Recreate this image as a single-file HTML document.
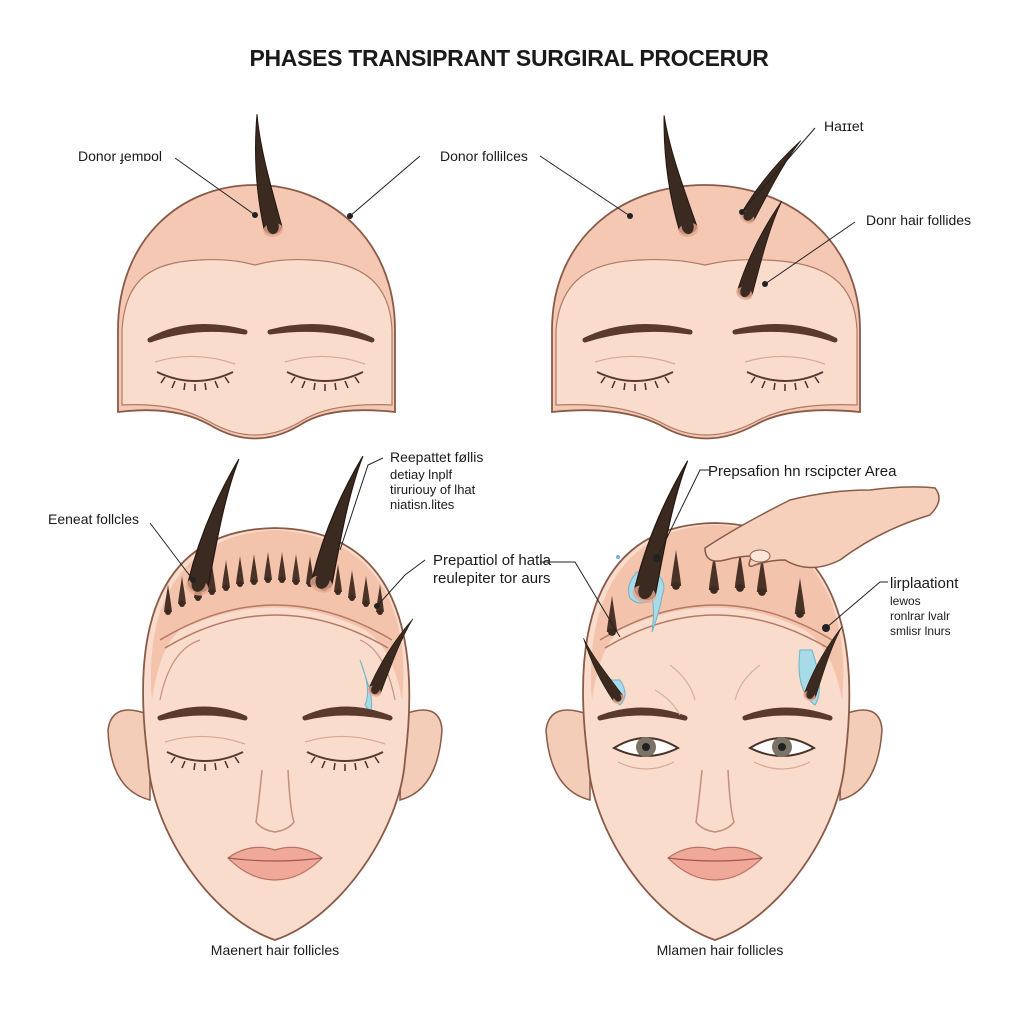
<!DOCTYPE html>
<html><head><meta charset="utf-8"><style>
html,body{margin:0;padding:0;background:#fff;}
svg{display:block}
text{font-family:"Liberation Sans",sans-serif;fill:#1a1a1a}
</style></head><body>
<svg width="1024" height="1024" viewBox="0 0 1024 1024" xmlns="http://www.w3.org/2000/svg">
<defs>
<g id="strandL"><path d="M-9,0 C-12,-40 -8,-80 0,-115 C-2,-80 4,-40 9,0 C6,8 -6,8 -9,0 Z" fill="#3b2a20" stroke="#24170f" stroke-width="1"/><ellipse cx="0" cy="2" rx="10" ry="7" fill="#e7a992" opacity=".8"/><ellipse cx="0" cy="-2" rx="6" ry="8" fill="#3b2a20"/></g>
<g id="spike"><path d="M-4,0 C-3,-10 -1,-20 0,-28 C1,-20 3,-10 4,0 Z" fill="#4a3326"/><circle cx="0" cy="0" r="3" fill="#3b2a20"/></g>
<g id="closedEye"><path d="M-38,0 Q0,18 38,0" fill="none" stroke="#5a3a30" stroke-width="2"/><path d="M-30,5 l-4,6 M-20,9 l-3,7 M-10,11 l-1,7 M0,12 l0,7 M10,11 l1,7 M20,9 l3,7 M30,5 l4,6" stroke="#4a3028" stroke-width="1.5"/><path d="M-40,-10 Q0,-22 40,-8" fill="none" stroke="#d9a894" stroke-width="1.2"/></g>
<g id="openEye"><path d="M-32,0 Q0,-20 32,0 Q0,16 -32,0 Z" fill="#fff" stroke="#4a3028" stroke-width="2"/><circle cx="0" cy="-1" r="10" fill="#7b7466"/><circle cx="0" cy="-1" r="4" fill="#222"/><path d="M-28,14 Q0,28 28,14" fill="none" stroke="#d9a894" stroke-width="1.2"/></g>
</defs>
<text x="509" y="66" text-anchor="middle" font-size="23" font-weight="bold" letter-spacing="-.3">PHASES TRANSIPRANT SURGIRAL PROCERUR</text>

<!-- TOP LEFT HEAD -->
<path d="M118,412 L118,330 C118,240 180,185 255,185 C330,185 395,240 395,330 L395,412 Q330,405 300,425 Q255,452 210,425 Q175,405 118,412 Z" fill="#f4c8b3" stroke="#8a5a48" stroke-width="1.8"/>
<path d="M122,405 L122,330 C125,280 150,262 200,260 Q230,258 255,265 Q280,258 310,260 C365,262 390,285 392,330 L392,405 Q330,402 300,422 Q255,448 210,422 Q175,402 122,405 Z" fill="#f9dccb" stroke="#b07a66" stroke-width="1.2"/>
<path d="M150,340 Q190,318 245,332 Q195,324 150,340 Z" fill="#5a3a2c" stroke="#5a3a2c" stroke-width="5" stroke-linejoin="round"/>
<path d="M270,332 Q325,318 372,340 Q325,324 270,332 Z" fill="#5a3a2c" stroke="#5a3a2c" stroke-width="5" stroke-linejoin="round"/>
<use href="#closedEye" x="195" y="372"/><use href="#closedEye" x="325" y="372"/>
<use href="#strandL" transform="translate(273,228) rotate(-8)"/>
<circle cx="255" cy="215" r="3" fill="#222"/><circle cx="350" cy="216" r="3" fill="#222"/>
<path d="M175,158 L255,215 M350,216 L420,156" stroke="#222" stroke-width="1" fill="none"/>
<text x="78" y="161" font-size="14">Donor ɟemɒol</text>
<text x="440" y="161" font-size="14">Donor follilces</text>

<!-- TOP RIGHT HEAD -->
<path d="M552,412 L552,330 C552,240 620,185 705,185 C790,185 860,240 860,330 L860,412 Q790,405 755,425 Q705,452 660,425 Q620,405 552,412 Z" fill="#f4c8b3" stroke="#8a5a48" stroke-width="1.8"/>
<path d="M556,405 L556,330 C560,280 590,262 640,260 Q675,258 705,265 Q735,258 765,260 C830,262 855,285 857,330 L857,405 Q790,402 755,422 Q705,448 660,422 Q620,402 556,405 Z" fill="#f9dccb" stroke="#b07a66" stroke-width="1.2"/>
<path d="M585,340 Q630,318 690,332 Q635,324 585,340 Z" fill="#5a3a2c" stroke="#5a3a2c" stroke-width="5" stroke-linejoin="round"/>
<path d="M735,332 Q790,318 835,340 Q790,324 735,332 Z" fill="#5a3a2c" stroke="#5a3a2c" stroke-width="5" stroke-linejoin="round"/>
<use href="#closedEye" x="635" y="372"/><use href="#closedEye" x="785" y="372"/>
<use href="#strandL" transform="translate(688,228) rotate(-12)"/>
<use href="#strandL" transform="translate(748,216) rotate(35) scale(.8)"/>
<use href="#strandL" transform="translate(745,292) rotate(22) scale(.85)"/>
<circle cx="630" cy="216" r="3" fill="#222"/><circle cx="742" cy="212" r="3" fill="#222"/><circle cx="765" cy="284" r="3" fill="#222"/>
<path d="M540,156 L630,216 M742,212 L815,128 M765,284 L855,222" stroke="#222" stroke-width="1" fill="none"/>
<text x="824" y="131" font-size="14">Haɪɪet</text>
<text x="866" y="225" font-size="14">Donr hair follides</text>

<!-- BOTTOM LEFT HEAD -->
<path d="M150,715 Q112,700 108,730 Q110,790 150,800 Z" fill="#f4cdb8" stroke="#8a5a48" stroke-width="1.5"/>
<path d="M402,715 Q440,700 442,730 Q438,790 400,800 Z" fill="#f4cdb8" stroke="#8a5a48" stroke-width="1.5"/>
<path d="M148,760 C132,640 150,530 275,528 C400,530 420,640 405,760 C400,830 340,918 275,940 C210,918 152,830 148,760 Z" fill="#f9dccb" stroke="#8a5a48" stroke-width="1.8"/>
<path d="M152,700 C145,620 170,535 275,530 C385,535 410,620 402,700 C395,660 380,640 365,630 Q275,585 180,630 C168,640 158,660 152,700 Z" fill="#f4c3ac"/>
<path d="M160,640 Q275,570 392,640 M165,648 Q275,582 388,648" stroke="#b57a66" stroke-width="1.5" fill="none"/>
<path d="M160,700 Q170,650 200,640 M395,700 Q385,650 360,640" stroke="#c89080" stroke-width="1.2" fill="none"/>
<g>
<use href="#spike" x="168" y="612"/><use href="#spike" x="182" y="604"/><use href="#spike" x="198" y="598"/><use href="#spike" x="212" y="592"/><use href="#spike" x="226" y="588"/><use href="#spike" x="240" y="584"/><use href="#spike" x="254" y="582"/><use href="#spike" x="268" y="580"/><use href="#spike" x="282" y="580"/><use href="#spike" x="296" y="582"/><use href="#spike" x="310" y="584"/><use href="#spike" x="324" y="588"/><use href="#spike" x="338" y="592"/><use href="#spike" x="352" y="598"/><use href="#spike" x="366" y="604"/><use href="#spike" x="380" y="612"/>
</g>
<use href="#strandL" transform="translate(198,585) rotate(18) scale(1.15)"/>
<use href="#strandL" transform="translate(322,582) rotate(18) scale(1.15)"/>
<path d="M360,660 Q372,690 365,705 Q375,720 370,690 Z" fill="#a8dbe8" stroke="#6fb3c8"/>
<use href="#strandL" transform="translate(375,690) rotate(28) scale(.7)"/>
<path d="M160,718 Q205,700 245,718 Q205,708 160,718 Z" fill="#5a3a2c" stroke="#5a3a2c" stroke-width="5" stroke-linejoin="round"/>
<path d="M305,718 Q345,700 390,718 Q345,708 305,718 Z" fill="#5a3a2c" stroke="#5a3a2c" stroke-width="5" stroke-linejoin="round"/>
<use href="#closedEye" x="205" y="752"/><use href="#closedEye" x="345" y="752"/>
<path d="M262,770 Q258,810 256,822 Q262,830 275,832 Q288,830 294,822 Q290,810 288,770" fill="none" stroke="#c48f7c" stroke-width="1.5"/>
<path d="M228,858 Q250,842 275,850 Q300,842 322,858 Q300,880 275,880 Q250,880 228,858 Z" fill="#f0a898" stroke="#b86f62" stroke-width="1.2"/>
<path d="M228,858 Q275,864 322,858" stroke="#a05a50" stroke-width="1.2" fill="none"/>
<circle cx="193" cy="580" r="3" fill="#222"/><circle cx="377" cy="606" r="3" fill="#222"/>
<path d="M150,523 L193,580 M377,606 L405,575 L425,560 M340,550 L368,465 L383,458" stroke="#222" stroke-width="1" fill="none"/>
<text x="48" y="524" font-size="14">Eeneat follcles</text>
<text x="390" y="462" font-size="14">Reepattet føllis</text>
<text x="390" y="479" font-size="13">detiay lnplf</text>
<text x="390" y="494" font-size="13">tiruriouy of lhat</text>
<text x="390" y="509" font-size="13">niatisn.lites</text>
<text x="433" y="565" font-size="15">Prepaɪtiol of hatla</text>
<text x="433" y="583" font-size="15">reulepiter tor aurs</text>
<text x="275" y="955" text-anchor="middle" font-size="14">Maenert hair follicles</text>

<!-- BOTTOM RIGHT HEAD -->
<path d="M590,715 Q550,700 546,730 Q550,790 590,800 Z" fill="#f4cdb8" stroke="#8a5a48" stroke-width="1.5"/>
<path d="M842,715 Q880,700 882,730 Q878,790 840,800 Z" fill="#f4cdb8" stroke="#8a5a48" stroke-width="1.5"/>
<path d="M588,760 C572,640 590,525 715,523 C840,525 860,640 845,760 C840,830 780,918 715,940 C650,918 592,830 588,760 Z" fill="#f9dccb" stroke="#8a5a48" stroke-width="1.8"/>
<path d="M592,700 C585,620 610,528 715,525 C825,528 850,620 842,700 C835,660 820,640 805,630 Q715,585 620,630 C608,640 598,660 592,700 Z" fill="#f4c3ac"/>
<path d="M600,640 Q715,570 832,640 M605,648 Q715,582 828,648" stroke="#b57a66" stroke-width="1.5" fill="none"/>
<use href="#spike" transform="translate(612,632) scale(1.3)"/><use href="#spike" transform="translate(676,586) scale(1.3)"/><use href="#spike" transform="translate(714,590) scale(1.3)"/><use href="#spike" transform="translate(740,588) scale(1.3)"/><use href="#spike" transform="translate(762,592) scale(1.3)"/><use href="#spike" transform="translate(800,614) scale(1.3)"/>
<path d="M637,572 Q625,585 630,598 Q640,608 652,598 Q655,610 652,632 Q660,610 662,596 Q668,582 655,572 Z" fill="#a8dbe8" stroke="#6fb3c8"/>
<use href="#strandL" transform="translate(645,592) rotate(18) scale(1.2)"/>
<path d="M605,680 Q612,700 620,705 Q630,695 620,680 Z" fill="#a8dbe8" stroke="#6fb3c8"/>
<use href="#strandL" transform="translate(618,698) rotate(-30) scale(.6)"/>
<path d="M800,650 Q795,690 815,705 Q825,690 812,650 Z" fill="#a8dbe8" stroke="#6fb3c8"/>
<use href="#strandL" transform="translate(810,695) rotate(25) scale(.65)"/>
<path d="M705,548 Q740,525 790,500 Q830,490 870,490 Q910,485 935,488 Q945,500 930,515 Q880,530 840,560 Q810,575 785,560 Q770,560 755,565 Q745,570 752,556 Q740,556 725,560 Q705,565 705,548 Z" fill="#f6d0bb" stroke="#8a5a48" stroke-width="1.5"/>
<ellipse cx="760" cy="556" rx="10" ry="6" fill="#fbe6da" stroke="#8a5a48" stroke-width="1"/>
<path d="M600,718 Q640,702 685,718 Q640,708 600,718 Z" fill="#5a3a2c" stroke="#5a3a2c" stroke-width="5" stroke-linejoin="round"/>
<path d="M745,718 Q785,702 830,718 Q785,708 745,718 Z" fill="#5a3a2c" stroke="#5a3a2c" stroke-width="5" stroke-linejoin="round"/>
<use href="#openEye" x="646" y="748"/><use href="#openEye" x="782" y="748"/>
<path d="M670,665 Q690,680 695,700 M760,665 Q740,680 735,700 M655,690 Q672,700 680,715" stroke="#dcae9c" stroke-width="1.2" fill="none"/>
<path d="M702,770 Q698,810 696,822 Q702,830 715,832 Q728,830 734,822 Q730,810 728,770" fill="none" stroke="#c48f7c" stroke-width="1.5"/>
<path d="M668,858 Q690,842 715,850 Q740,842 762,858 Q740,880 715,880 Q690,880 668,858 Z" fill="#f0a898" stroke="#b86f62" stroke-width="1.2"/>
<path d="M668,858 Q715,864 762,858" stroke="#a05a50" stroke-width="1.2" fill="none"/>
<circle cx="618" cy="557" r="2" fill="#6fb3c8"/>
<circle cx="618" cy="558" r="0" fill="#222"/><circle cx="657" cy="558" r="4" fill="#222"/><circle cx="826" cy="628" r="4" fill="#222"/>
<path d="M657,558 L700,470 L710,470 M826,628 L880,582 L888,582 M540,562 L575,562 L620,637" stroke="#222" stroke-width="1" fill="none"/>
<text x="708" y="476" font-size="15">Prepsafion hn rscipcter Area</text>
<text x="890" y="588" font-size="15">lirplaationt</text>
<text x="890" y="605" font-size="12">lewos</text>
<text x="890" y="620" font-size="12">ronlrar lvalr</text>
<text x="890" y="635" font-size="12">smlisr lnurs</text>
<text x="720" y="955" text-anchor="middle" font-size="14">Mlamen hair follicles</text>
</svg>
</body></html>
